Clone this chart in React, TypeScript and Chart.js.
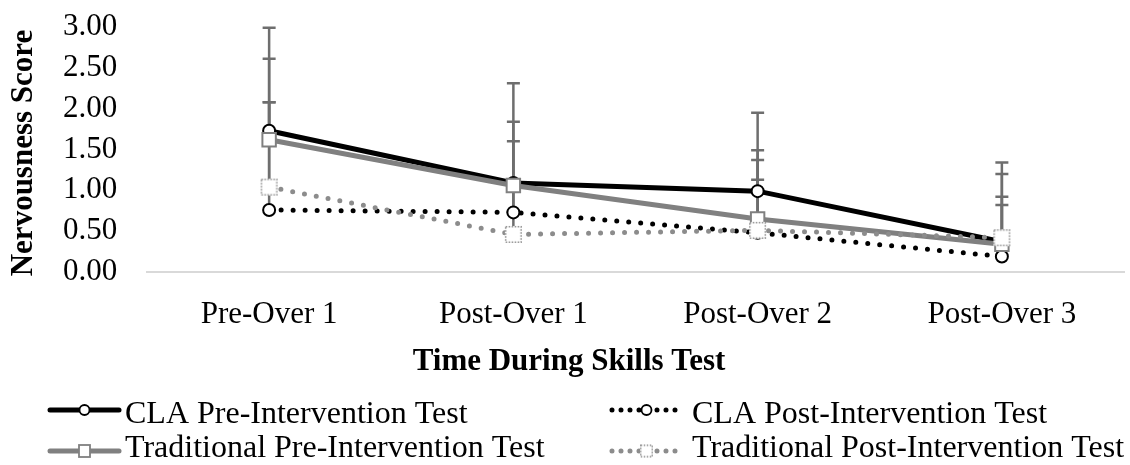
import React, { useEffect, useRef } from "react";
import { Chart, registerables } from "chart.js";

Chart.register(...registerables);

const categories = ["Pre-Over 1", "Post-Over 1", "Post-Over 2", "Post-Over 3"];
const yTickValues = [0, 0.5, 1, 1.5, 2, 2.5, 3];

const seriesLabels = [
  "CLA Pre-Intervention Test",
  "CLA Post-Intervention Test",
  "Traditional Pre-Intervention Test",
  "Traditional Post-Intervention Test",
];
const claPre = [1.73, 1.09, 0.99, 0.37];
const claPost = [0.76, 0.73, 0.48, 0.19];
const tradPre = [1.62, 1.06, 0.65, 0.34];
const tradPost = [1.04, 0.46, 0.51, 0.42];

// upward error bar lengths (plus direction only)
const claPreErr = [1.26, 1.22, 0.96, 0.97];
const claPostErr = [1.32, 0.87, 0.89, 0.63];
const tradPreErr = [0.99, 0.78, 0.84, 0.86];
const tradPostErr = [1.04, 0.6, 0.62, 0.5];

const FONT = "'Liberation Serif', 'Times New Roman', serif";
const GRAY = "#808080";
const ERR = "#6e6e6e";

function makeDottedSquare(size: number): HTMLCanvasElement {
  const c = document.createElement("canvas");
  c.width = size + 2;
  c.height = size + 2;
  const ctx = c.getContext("2d")!;
  ctx.fillStyle = "#ffffff";
  ctx.fillRect(1, 1, size, size);
  ctx.strokeStyle = "#8c8c8c";
  ctx.lineWidth = 1.5;
  ctx.setLineDash([1.5, 1.5]);
  ctx.strokeRect(1.75, 1.75, size - 1.5, size - 1.5);
  return c;
}

export default function App() {
  const ref = useRef<HTMLCanvasElement | null>(null);

  useEffect(() => {
    const canvas = ref.current;
    if (!canvas) return;
    const dottedSq = makeDottedSquare(17);
    const dottedSqSmall = makeDottedSquare(13);

    const errors = [claPreErr, claPostErr, tradPreErr, tradPostErr];
    const values = [claPre, claPost, tradPre, tradPost];

    const errorBarPlugin = {
      id: "errorBars",
      beforeDatasetsDraw(chart: any) {
        const ctx = chart.ctx;
        const xs = chart.scales.x;
        const ys = chart.scales.y;
        ctx.save();
        ctx.strokeStyle = ERR;
        ctx.lineWidth = 2.5;
        values.forEach((vals, i) => {
          vals.forEach((v, j) => {
            const x = xs.getPixelForValue(j);
            const y0 = ys.getPixelForValue(v);
            const y1 = ys.getPixelForValue(v + errors[i][j]);
            ctx.beginPath();
            ctx.moveTo(x, y0);
            ctx.lineTo(x, y1);
            ctx.moveTo(x - 6.5, y1);
            ctx.lineTo(x + 6.5, y1);
            ctx.stroke();
          });
        });
        ctx.restore();
      },
    };

    const titlesLegendPlugin = {
      id: "titlesLegend",
      afterDraw(chart: any) {
        const ctx = chart.ctx;
        ctx.save();
        // Y title
        ctx.fillStyle = "#000";
        ctx.font = `bold 31px ${FONT}`;
        ctx.textAlign = "center";
        ctx.textBaseline = "middle";
        ctx.translate(24, 153);
        ctx.rotate(-Math.PI / 2);
        ctx.fillText("Nervousness Score", 0, 0);
        ctx.setTransform(1, 0, 0, 1, 0, 0);
        // X title
        ctx.textAlign = "center";
        ctx.textBaseline = "alphabetic";
        ctx.fillText("Time During Skills Test", 569, 370);

        // Legend
        const items = [
          { x: 48, y: 410, ty: 423, kind: 0 },
          { x: 610, y: 410, ty: 423, kind: 1 },
          { x: 48, y: 451, ty: 457, kind: 2 },
          { x: 610, y: 451, ty: 457, kind: 3 },
        ];
        items.forEach((it) => {
          const x0 = it.x;
          const x1 = it.x + 73;
          const cx = (x0 + x1) / 2;
          const y = it.y;
          ctx.save();
          ctx.beginPath();
          if (it.kind === 0 || it.kind === 2) {
            ctx.strokeStyle = it.kind === 0 ? "#000" : GRAY;
            ctx.lineWidth = 5;
            ctx.lineCap = "round";
            ctx.moveTo(x0 + 2, y);
            ctx.lineTo(x1 - 2, y);
            ctx.stroke();
          } else {
            ctx.strokeStyle = it.kind === 1 ? "#000" : "#8c8c8c";
            ctx.lineWidth = 5;
            ctx.lineCap = "round";
            ctx.setLineDash([0, 9]);
            ctx.moveTo(x0 + 2, y);
            ctx.lineTo(x1, y);
            ctx.stroke();
          }
          ctx.restore();
          ctx.save();
          if (it.kind === 0 || it.kind === 1) {
            ctx.beginPath();
            ctx.arc(cx, y, 5, 0, Math.PI * 2);
            ctx.fillStyle = "#fff";
            ctx.fill();
            ctx.lineWidth = 1.8;
            ctx.strokeStyle = "#000";
            ctx.stroke();
          } else if (it.kind === 2) {
            ctx.fillStyle = "#fff";
            ctx.fillRect(cx - 5.5, y - 6, 11, 12);
            ctx.lineWidth = 1.8;
            ctx.strokeStyle = GRAY;
            ctx.strokeRect(cx - 5.5, y - 6, 11, 12);
          } else {
            ctx.drawImage(dottedSqSmall, cx - dottedSqSmall.width / 2, y - dottedSqSmall.height / 2);
          }
          ctx.restore();
          ctx.fillStyle = "#000";
          ctx.font = `32px ${FONT}`;
          ctx.textAlign = "left";
          ctx.textBaseline = "alphabetic";
          ctx.fillText(seriesLabels[it.kind], it.kind % 2 === 0 ? x1 + 4 : x1 + 9, it.ty);
        });
        ctx.restore();
      },
    };

    const chart = new Chart(canvas, {
      type: "line",
      data: {
        labels: categories,
        datasets: [
          {
            label: seriesLabels[0],
            data: claPre,
            borderColor: "#000",
            borderWidth: 5,
            pointStyle: "circle",
            pointRadius: 6,
            pointBorderWidth: 2,
            pointBorderColor: "#000",
            pointBackgroundColor: "#fff",
            order: 3,
          },
          {
            label: seriesLabels[1],
            data: claPost,
            borderColor: "#000",
            borderWidth: 5,
            borderDash: [0, 12],
            borderCapStyle: "round",
            pointStyle: "circle",
            pointRadius: 6,
            pointBorderWidth: 2,
            pointBorderColor: "#000",
            pointBackgroundColor: "#fff",
            order: 2,
          },
          {
            label: seriesLabels[2],
            data: tradPre,
            borderColor: GRAY,
            borderWidth: 5,
            pointStyle: "rect",
            pointRadius: 9.5,
            pointBorderWidth: 2,
            pointBorderColor: GRAY,
            pointBackgroundColor: "#fff",
            order: 1,
          },
          {
            label: seriesLabels[3],
            data: tradPost,
            borderColor: "#8c8c8c",
            borderWidth: 5,
            borderDash: [0, 12],
            borderCapStyle: "round",
            pointStyle: dottedSq as any,
            pointRadius: 9,
            order: 0,
          },
        ] as any,
      },
      options: {
        responsive: false,
        animation: false,
        devicePixelRatio: 1,
        layout: { padding: { top: 27, left: 63, right: 0, bottom: 0 } },
        plugins: {
          legend: { display: false },
          tooltip: { enabled: false },
          title: { display: false },
        },
        scales: {
          x: {
            type: "category",
            offset: true,
            grid: { display: false, drawTicks: false },
            border: { display: true, color: "#d9d9d9", width: 2 },
            ticks: {
              color: "#000",
              font: { family: FONT, size: 31 },
              padding: 24,
              maxRotation: 0,
              autoSkip: false,
            },
            afterFit: (s: any) => {
              s.height = 193;
            },
          },
          y: {
            min: 0,
            max: 3,
            afterBuildTicks: (s: any) => {
              s.ticks = yTickValues.map((v) => ({ value: v }));
            },
            grid: { display: false, drawTicks: false },
            border: { display: false },
            ticks: {
              color: "#000",
              font: { family: FONT, size: 31 },
              padding: 0,
              crossAlign: "far",
              autoSkip: false,
              callback: (v: any) => Number(v).toFixed(2),
            },
            afterFit: (s: any) => {
              s.width = 84;
            },
          },
        },
      } as any,
      plugins: [errorBarPlugin, titlesLegendPlugin],
    });
    return () => chart.destroy();
  }, []);

  return (
    <div style={{ position: "fixed", left: 0, top: 0, width: 1130, height: 465, overflow: "hidden", background: "#fff" }}>
      <canvas ref={ref} width={1138} height={465} style={{ display: "block", width: 1138, height: 465 }} />
    </div>
  );
}
